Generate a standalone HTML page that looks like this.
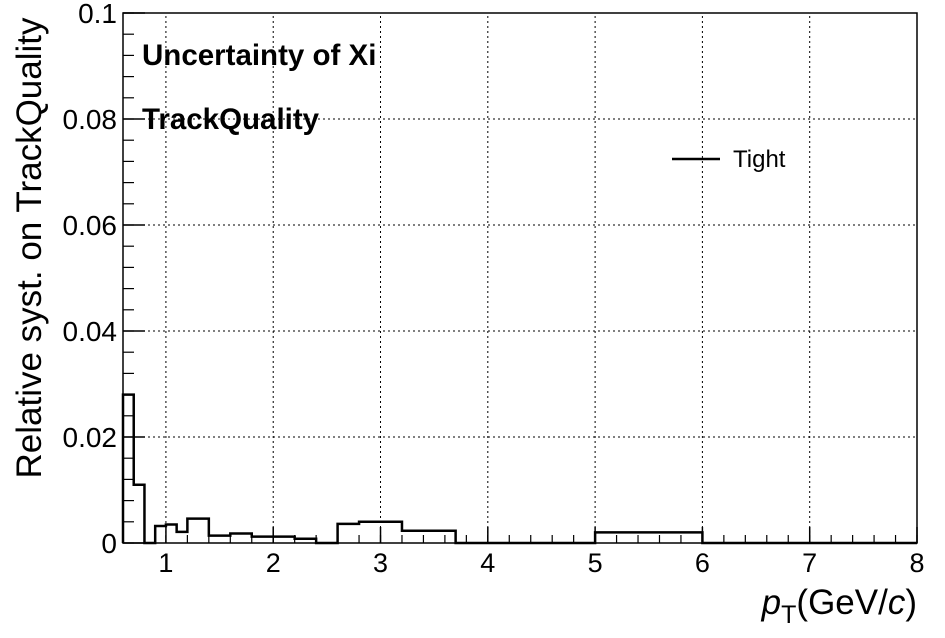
<!DOCTYPE html>
<html><head><meta charset="utf-8"><style>
body{margin:0;background:#fff}
svg{display:block;font-family:"Liberation Sans",Arial,sans-serif}
</style></head><body>
<svg id="c" width="945" height="638" viewBox="0 0 945 638">
<rect width="945" height="638" fill="#fff"/>
<g id="grid"></g>
<g id="ticks"></g>
<path id="hist" fill="none" stroke="#000" stroke-width="2.5"/>
<rect x="123" y="13" width="794" height="530" fill="none" stroke="#000" stroke-width="1.5"/>
<text x="142" y="65" font-size="29.5" font-weight="bold">Uncertainty of Xi</text>
<text x="142" y="129" font-size="29.5" font-weight="bold">TrackQuality</text>
<line x1="672" y1="159" x2="720" y2="159" stroke="#000" stroke-width="2.5"/>
<text x="733" y="167" font-size="24">Tight</text>
<text transform="translate(41,248) rotate(-90)" text-anchor="middle" font-size="35">Relative syst. on TrackQuality</text>
<text x="917" y="614" text-anchor="end" font-size="35"><tspan font-style="italic">p</tspan><tspan font-size="25" dy="9">T</tspan><tspan dy="-9">(GeV/</tspan><tspan font-style="italic">c</tspan><tspan>)</tspan></text>
</svg>
<script>
const binEdges=[0.6,0.7,0.8,0.9,1.0,1.1,1.2,1.4,1.6,1.8,2.2,2.4,2.6,2.8,3.2,3.7,5.0,6.0,8.0];
const binValues=[0.028,0.011,0,0.0032,0.0035,0.0021,0.0046,0.0014,0.0018,0.0012,0.0008,0,0.0036,0.004,0.0023,0,0.002,0];
const xTicks=[1,2,3,4,5,6,7,8];
const yTicks=[0,0.02,0.04,0.06,0.08,0.1];
const yTickLabels=["0","0.02","0.04","0.06","0.08","0.1"];
const X0=123,X1=917,Y0=543,Y1=13,xmin=0.6,xmax=8,ymin=0,ymax=0.1;
const sx=v=>X0+(v-xmin)/(xmax-xmin)*(X1-X0);
const sy=v=>Y0-(v-ymin)/(ymax-ymin)*(Y0-Y1);
const NS="http://www.w3.org/2000/svg";
const grid=document.getElementById('grid'),ticks=document.getElementById('ticks');
function mk(tag,at,parent){const e=document.createElementNS(NS,tag);for(const k in at)e.setAttribute(k,at[k]);parent.appendChild(e);return e;}
xTicks.forEach(t=>{const x=sx(t);
 const g=mk('line',{x1:x,y1:Y0,x2:x,y2:Y1,stroke:'#000','stroke-width':1,'stroke-dasharray':'2,3'},grid);
 
 
 const tk=mk('line',{x1:x,y1:Y0,x2:x,y2:Y0-16,stroke:'#000','stroke-width':1.5},ticks);
 
 
 const l=mk('text',{x:x,y:Y0+29,'text-anchor':'middle','font-size':27},ticks);l.textContent=t;
 
 
});
for(let v=0.6;v<=8.0001;v+=0.2){const x=sx(v);mk('line',{x1:x,y1:Y0,x2:x,y2:Y0-8,stroke:'#000','stroke-width':1.2},ticks);}
yTicks.forEach((t,i)=>{const y=sy(t);
 if(i>0&&i<yTicks.length-1){const g=mk('line',{x1:X0,y1:y,x2:X1,y2:y,stroke:'#000','stroke-width':1,'stroke-dasharray':'2,3'},grid);
 
 }
 const tk=mk('line',{x1:X0,y1:y,x2:X0+22,y2:y,stroke:'#000','stroke-width':1.5},ticks);
 
 
 const l=mk('text',{x:X0-6,y:y+10,'text-anchor':'end','font-size':28},ticks);l.textContent=yTickLabels[i];
 
 
});
for(let v=0;v<=0.1001;v+=0.004){const y=sy(v);mk('line',{x1:X0,y1:y,x2:X0+11,y2:y,stroke:'#000','stroke-width':1.2},ticks);}
let d='M'+sx(binEdges[0])+','+sy(0);
binValues.forEach((v,i)=>{d+=' L'+sx(binEdges[i])+','+sy(v)+' L'+sx(binEdges[i+1])+','+sy(v);});
d+=' L'+sx(binEdges[binEdges.length-1])+','+sy(0);
document.getElementById('hist').setAttribute('d',d);
</script>
</body></html>
